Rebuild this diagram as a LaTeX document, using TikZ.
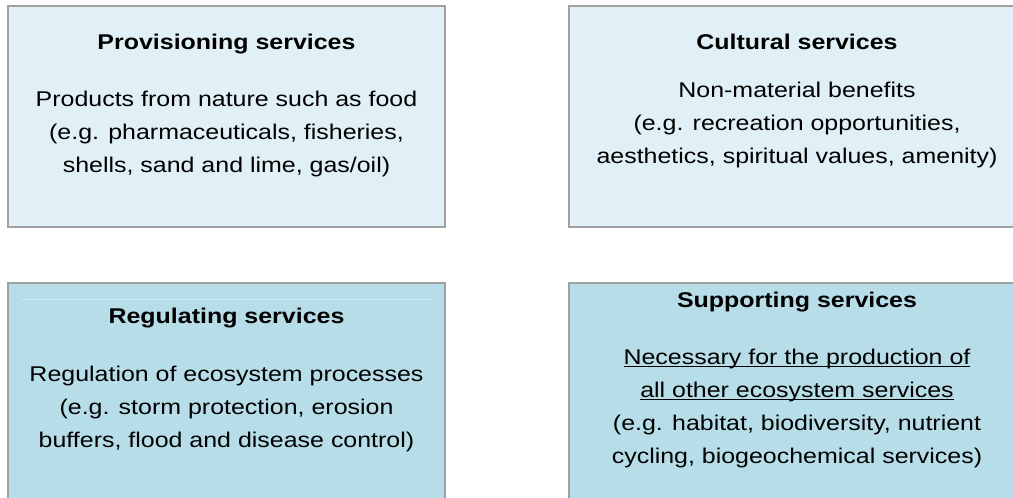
\documentclass[tikz,border=0pt]{standalone}
\usepackage{fontspec}
\setmainfont{Liberation Sans}[FakeStretch=1.17]
\usetikzlibrary{positioning}
\definecolor{paleaqua}{RGB}{224,240,246}
\definecolor{softaqua}{RGB}{183,221,232}
\definecolor{framegrey}{RGB}{160,160,160}
\newcommand{\ulinebox}[1]{\setbox0\hbox{#1}\rlap{\rule[-2.6pt]{\wd0}{0.9pt}}\box0}
\begin{document}
\begin{tikzpicture}[x=0.75pt,y=-0.75pt,
  servicebox/.style={draw=framegrey,line width=1.1pt},
  heading/.style={font=\fontsize{16}{24.75}\selectfont\bfseries,anchor=base,inner sep=0pt},
  bodytext/.style={font=\fontsize{16}{24.75}\selectfont,align=center,anchor=base,inner sep=0pt}]
\useasboundingbox (0,0) rectangle (1013,497);
\clip (0,0) rectangle (1013,497);
% the four boxes
\draw[servicebox,fill=paleaqua](8,6)rectangle(445,227);
\draw[servicebox,fill=paleaqua](569,6)rectangle(1026,227);
\draw[servicebox,fill=softaqua](8,283)rectangle(445,510);
\draw[servicebox,fill=softaqua](569,283)rectangle(1026,510);
\draw[white!40!softaqua,line width=0.4pt](22,299)--(432,299);
% provisioning (body anchored at its last line)
\node[heading](provTitle)at(226.5,49){Provisioning services};
\node[bodytext](provText)at(226.5,172){Products from nature such as food\\(e.g. pharmaceuticals, fisheries,\\shells, sand and lime, gas/oil)};
% cultural
\node[heading](cultTitle)at(797,49){Cultural services};
\node[bodytext](cultText)at(797,163){Non-material benefits\\(e.g. recreation opportunities,\\aesthetics, spiritual values, amenity)};
% regulating
\node[heading](regTitle)at(226.5,323){Regulating services};
\node[bodytext](regText)at(226.5,447){Regulation of ecosystem processes\\(e.g. storm protection, erosion\\buffers, flood and disease control)};
% supporting
\node[heading](suppTitle)at(797,307){Supporting services};
\node[bodytext](suppText)at(797,463){\ulinebox{Necessary for the production of}\\\ulinebox{all other ecosystem services}\\(e.g. habitat, biodiversity, nutrient\\cycling, biogeochemical services)};
\end{tikzpicture}
\end{document}
